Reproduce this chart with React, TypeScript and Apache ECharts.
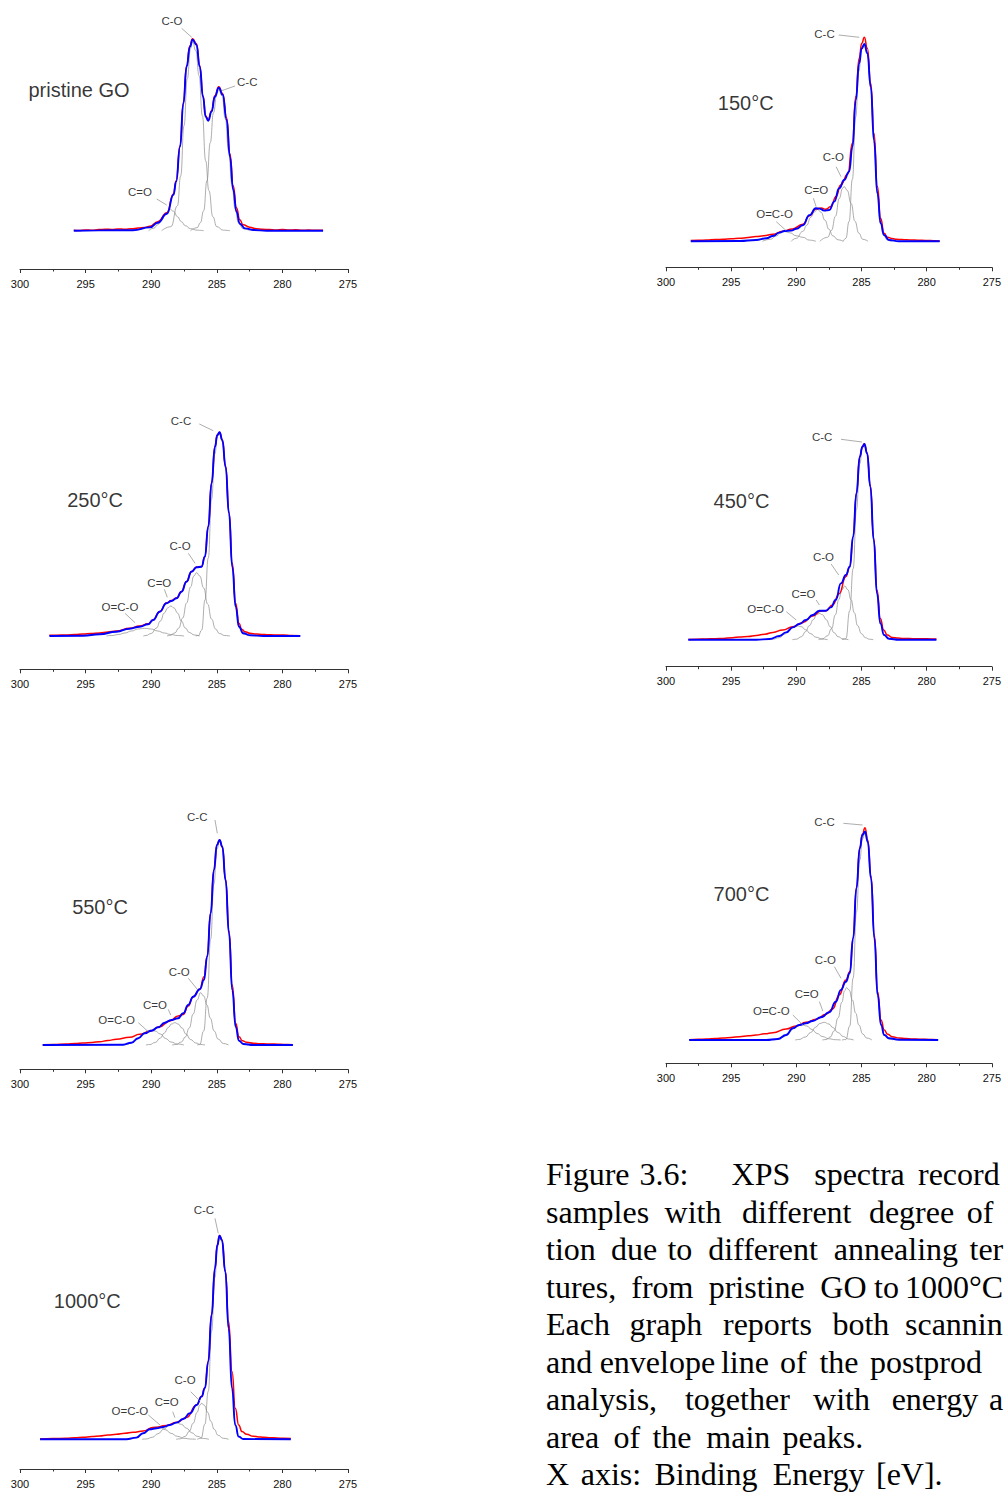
import React, { useEffect, useRef } from "react";
import * as echarts from "echarts";

// ---------- DATA: binding energy [eV] vs intensity (a.u., baseline = 0) ----------
// pristine GO
const p1Measured = [[295.9,0.5],[295.5,0.2],[295,0.8],[294.5,0.4],[294,1.1],[293.5,1.5],[293,1.2],[292.5,1.8],[292,1.4],[291.5,2],[291,2.6],[290.5,3.2],[290.1,4.5],[289.5,9],[288.8,18],[288.3,37],[288.1,50],[287.8,85],[287.55,128],[287.3,165],[287.05,185],[286.85,192],[286.55,187],[286.3,165],[286.05,135],[285.85,115],[285.65,111],[285.4,120],[285.15,135],[284.85,144],[284.55,137],[284.25,113],[284,77],[283.75,45],[283.5,23],[283.25,11],[283,6],[282.5,3.5],[282,2],[281.5,1.5],[281,1.1],[280.5,0.7],[280,1.2],[279.5,0.6],[279,0.9],[278.5,0.4],[278,0.7],[277.5,0.4],[276.9,0.5]];
const p1Envelope = [[295.9,0],[294,0.3],[291.4,0.5],[290.1,3.3],[289.5,8],[288.8,17],[288.3,36],[288.1,49],[287.8,84],[287.55,127],[287.3,164],[287.05,184],[286.85,191],[286.55,186],[286.3,164],[286.05,134],[285.85,114],[285.65,110],[285.4,119],[285.15,134],[284.85,143],[284.55,136],[284.25,111],[284,74],[283.75,41],[283.5,19],[283.25,7],[282.85,2.3],[282.2,0.7],[281.2,0],[276.9,0]];
const p1CdO = [[290.2,0],[289.8,2.5],[289.5,6],[289.2,11],[288.9,17],[288.6,21.7],[288.3,19.5],[288,14],[287.7,9],[287.4,5],[287,2],[286.5,0.5],[286,0]];
const p1CO = [[289.2,0],[288.5,4],[288,25],[287.75,55],[287.5,105],[287.25,152],[287,182],[286.85,189],[286.6,180],[286.35,155],[286.1,115],[285.85,70],[285.6,40],[285.3,14],[285,4],[284.5,0.5],[284,0]];
const p1CC = [[287,0],[286.5,3],[286.25,8],[286,20],[285.75,50],[285.5,88],[285.25,118],[285,137],[284.85,141],[284.6,135],[284.35,112],[284.1,80],[283.85,47],[283.6,22],[283.35,8],[283,2],[282.5,0]];

// 150 °C
const p2Measured = [[298.1,0.7],[297.5,1],[296.9,1.3],[296.2,1.8],[295.6,2],[295,2.6],[294.35,3],[293.7,3.8],[293.1,4.7],[292.5,5.6],[291.8,7],[291.05,10],[290.3,12.3],[289.5,17],[289,25.5],[288.5,32.3],[288.1,33.3],[287.75,32],[287.35,34.7],[286.95,44.7],[286.6,56.3],[286.05,67.3],[285.7,98],[285.44,144.7],[285.18,183],[284.98,198],[284.78,204],[284.55,193],[284.29,158],[284.04,108],[283.78,54.7],[283.53,23],[283.27,8],[283,4],[282.64,2.7],[282.3,2],[281.9,1.7],[281.5,1.5],[281.1,1.3],[280.7,1.1],[280.35,1],[279.9,0.8],[279.5,0.6],[279,0.3]];
const p2Envelope = [[298.1,0],[294.35,0.3],[293.1,1.3],[292.3,3],[291.8,5.3],[291.3,8.7],[290.9,10.3],[290.4,10.7],[290,12.5],[289.5,16],[289,26],[288.5,33],[288.24,32.7],[287.86,30.7],[287.47,31.3],[287.09,39.7],[286.71,53],[286.33,61.3],[285.95,69.7],[285.69,94.7],[285.44,141],[285.18,178],[284.98,193],[284.78,197.3],[284.55,188],[284.29,154.7],[284.04,101],[283.78,48],[283.53,18],[283.27,6.3],[282.89,1.3],[282.13,0],[279,0]];
const p2OCO = [[292.6,0],[292,2],[291.5,5.5],[291.2,8.5],[290.9,9.7],[290.5,8.5],[290,5.5],[289.5,4],[289,1.2],[288.5,0]];
const p2CdO = [[290.4,0],[290,3],[289.5,10],[289.2,16],[288.9,24],[288.6,29.5],[288.37,32],[288.1,29],[287.8,21],[287.5,12],[287.2,5.5],[286.8,1.5],[286.4,0]];
const p2CO = [[288.2,0],[287.6,4],[287.3,11],[287,25],[286.7,43],[286.45,53],[286.33,54.7],[286.1,51],[285.8,38],[285.5,20],[285.2,8],[284.9,2],[284.5,0]];
const p2CC = [[286.4,0],[286.2,3],[285.95,20],[285.7,62],[285.45,124],[285.2,170],[285,192],[284.78,196],[284.55,187],[284.3,154],[284.05,101],[283.8,48],[283.55,18],[283.3,6],[283,1],[282.7,0]];

// 250 °C
const p3Measured = [[297.76,0.7],[297.2,0.8],[296.5,1],[295.8,1.6],[295.2,2],[294.6,2.4],[293.93,3],[293.3,4],[292.66,5],[291.64,7.7],[290.88,10],[290.24,12.3],[289.86,16],[289.35,24.5],[288.84,33],[288.46,35.5],[288.07,38],[287.69,44.5],[287.31,54.5],[286.93,64.5],[286.54,69],[286.16,69.5],[285.91,79.5],[285.65,109.5],[285.4,153],[285.14,189.5],[284.96,201],[284.79,203.7],[284.58,196],[284.33,170],[284.07,124],[283.82,72.7],[283.56,32.7],[283.31,12.7],[283.1,6.7],[282.85,4.3],[282.47,2.7],[281.96,2],[281.5,1.6],[281.19,1.3],[280.6,1.1],[279.9,1],[279.3,0.6],[278.64,0.3]];
const p3Envelope = [[297.76,0],[295.2,0.3],[293.93,1.7],[292.66,4.3],[291.64,7.3],[290.88,9.3],[290.24,11.7],[289.86,16],[289.35,24.3],[288.84,32.7],[288.46,35],[288.07,37.7],[287.69,44.3],[287.31,54.3],[286.93,64.3],[286.54,68.7],[286.16,69.3],[285.91,79.3],[285.65,109.3],[285.4,152.7],[285.14,189.3],[284.96,201],[284.79,203.7],[284.58,196],[284.33,169.3],[284.07,122.7],[283.82,69.3],[283.56,29.3],[283.31,9.3],[282.98,2.7],[282.47,0.7],[281.45,0],[278.64,0]];
const p3OCO = [[293.4,0],[293,0.5],[292.5,1.5],[292,3],[291.5,5],[291,7],[290.5,7.7],[290,7],[289.5,5],[289,3],[288.5,1.5],[288,0.5],[287.5,0]];
const p3CdO = [[290.6,0],[290.4,0.5],[290,2.5],[289.6,8],[289.3,15],[289,23],[288.75,28],[288.5,30],[288.25,28],[288,23],[287.7,15],[287.4,8],[287.1,3.5],[286.7,1],[286.3,0]];
const p3CO = [[288.8,0],[288.6,0.5],[288.2,3],[287.9,8],[287.6,18],[287.3,33],[287,49],[286.75,60],[286.54,63.3],[286.3,60],[286,48],[285.7,32],[285.4,17],[285.1,7],[284.8,2.5],[284.4,0.5],[284,0]];
const p3CC = [[286.6,0],[286.4,0.5],[286.15,6],[285.9,36],[285.65,78],[285.4,137],[285.15,182],[284.95,200],[284.79,202],[284.58,194],[284.33,168],[284.07,122],[283.82,69],[283.56,29],[283.31,9],[283,2],[282.6,0]];

// 450 °C
const p4Measured = [[298.29,0.3],[297.6,0.5],[296.9,0.7],[296.2,1],[295.6,1.3],[294.9,2],[294.35,2.7],[293.7,3.3],[293.08,4.3],[292.4,5.5],[291.8,7.3],[291.04,9.7],[290.27,13],[289.51,17],[288.75,23.7],[288.11,28.7],[287.73,29],[287.22,34.7],[286.71,46],[286.2,63],[285.9,73],[285.64,103],[285.39,146.3],[285.13,183],[284.93,193],[284.78,196],[284.57,187],[284.32,154],[284.06,101.3],[283.81,49.7],[283.55,21.3],[283.3,9.7],[283.02,4.7],[282.64,2.3],[282.2,1.6],[281.87,1.3],[281.3,1.1],[280.86,1],[280.2,0.9],[279.7,0.8],[279.25,0.7]];
const p4Envelope = [[298.29,0],[293.08,0],[292.06,0.7],[291.29,3.7],[290.78,7.3],[290.27,12.3],[289.77,15.7],[289.26,19.7],[288.75,24.7],[288.24,29],[287.73,29],[287.35,32.3],[286.97,40],[286.58,56.3],[286.2,64.7],[285.9,73],[285.64,103],[285.39,146.3],[285.13,183],[284.93,193],[284.78,195.7],[284.57,186.3],[284.32,153],[284.06,99.7],[283.81,46.3],[283.55,16.3],[283.27,4.7],[282.89,1],[282.13,0],[279.25,0]];
const p4OCO = [[292,0],[291.8,0.5],[291.3,2],[290.9,5.5],[290.5,10],[290.2,13],[289.9,13.7],[289.6,13],[289.3,10],[288.9,6],[288.5,2.5],[288,0.7],[287.6,0]];
const p4CdO = [[290.3,0],[290,0.5],[289.6,3],[289.3,8],[289,14],[288.7,20],[288.45,25],[288.24,26.3],[288,25],[287.7,20],[287.4,13],[287.1,7],[286.8,3],[286.4,0.7],[286,0]];
const p4CO = [[288.3,0],[288,0.8],[287.6,4],[287.3,11],[287,25],[286.75,40],[286.5,50],[286.28,53.7],[286.05,50],[285.8,40],[285.55,27],[285.3,14],[285,6],[284.7,2],[284.4,0.5],[284.1,0]];
const p4CC = [[286.5,0],[286.2,1],[285.9,29],[285.64,71],[285.39,130],[285.13,176],[284.93,192],[284.78,195],[284.57,186],[284.32,153],[284.06,100],[283.81,46],[283.55,16],[283.27,4.5],[282.9,1],[282.6,0]];

// 550 °C
const p5Measured = [[298.27,0.3],[297.4,0.6],[296.48,1],[295.8,1.5],[295.2,2],[294.5,2.6],[293.93,3.3],[293.3,4.5],[292.66,5.7],[291.64,7.7],[290.88,10.7],[290.11,13.7],[289.35,18.3],[288.58,24],[287.95,29],[287.56,30.5],[287.18,39],[286.8,48.3],[286.29,56],[285.98,68.3],[285.73,89],[285.47,132],[285.22,175],[284.99,200],[284.79,205],[284.58,198.3],[284.33,166],[284.07,114],[283.82,60],[283.56,21.7],[283.31,8.3],[283.05,4.3],[282.72,2.7],[282.21,1.7],[281.7,1.3],[281.19,1],[280.6,0.9],[280.17,0.7],[279.6,0.5],[279.2,0.3]];
const p5Envelope = [[298.27,0],[292.15,0.3],[291.51,2.3],[291,6.7],[290.49,11.7],[289.98,14.3],[289.47,17.7],[288.97,22.3],[288.46,25],[287.95,26.7],[287.56,31.7],[287.18,40],[286.8,48.3],[286.29,55.7],[285.98,65],[285.73,88.3],[285.47,131.7],[285.22,175],[284.99,200],[284.79,205],[284.58,198.3],[284.33,165],[284.07,111.7],[283.82,55],[283.56,18.3],[283.31,4.3],[282.98,1],[282.21,0],[279.2,0]];
const p5OCO = [[292.2,0],[291.9,0.5],[291.4,2.5],[291,6],[290.6,11],[290.3,14],[290,15],[289.7,14],[289.3,11],[288.9,6.5],[288.5,3],[288,1],[287.5,0]];
const p5CdO = [[290.4,0],[290.1,0.5],[289.7,2.5],[289.3,7],[289,12],[288.7,17.5],[288.45,21],[288.2,22.3],[287.95,21],[287.65,17],[287.35,11],[287,5.5],[286.6,2],[286.2,0.5],[285.9,0]];
const p5CO = [[288.4,0],[288.1,0.5],[287.7,3],[287.4,8],[287.1,17],[286.8,31],[286.5,45],[286.24,52.3],[286,49],[285.75,40],[285.5,27],[285.2,14],[284.9,6],[284.5,1.5],[284.1,0]];
const p5CC = [[286.5,0],[286.3,0.5],[286,14],[285.73,47],[285.47,106],[285.22,161],[284.99,196],[284.79,204],[284.58,197],[284.33,164],[284.07,111],[283.82,55],[283.56,18],[283.31,4.3],[283,1],[282.6,0]];

// 700 °C
const p6Measured = [[298.22,0.3],[297.5,0.7],[296.9,1],[296.2,1.5],[295.6,2],[295,2.6],[294.35,3.3],[293.7,4.2],[293.08,5],[292.4,6.2],[291.8,7.3],[290.78,11],[290.02,14],[289.26,17.7],[288.49,20.7],[287.73,25.7],[287.22,31],[286.71,45],[286.2,60],[285.9,68.3],[285.64,102],[285.39,152],[285.13,192],[284.93,206],[284.73,212.3],[284.52,200],[284.27,164],[284.01,105],[283.76,48.3],[283.5,20],[283.25,10],[282.99,5.7],[282.64,3.3],[282.13,2],[281.6,1.4],[281.11,1],[280.6,0.8],[280.1,0.7],[279.6,0.5],[279.12,0.3]];
const p6Envelope = [[298.22,0],[292.31,0],[291.42,1],[290.78,5],[290.27,11.7],[289.77,15],[289.26,16.7],[288.75,19],[288.11,22.7],[287.47,27.7],[286.97,38.3],[286.58,50],[286.2,58.3],[285.9,66.7],[285.64,101.7],[285.39,151.7],[285.13,191.7],[284.93,205],[284.73,208.3],[284.52,198.3],[284.27,161.7],[284.01,101.7],[283.76,45],[283.5,15],[283.25,5],[282.89,1.7],[282.13,0.3],[279.12,0]];
const p6OCO = [[291.8,0],[291.5,0.5],[291,3],[290.6,7],[290.2,11.5],[289.8,14.5],[289.5,15],[289.2,14],[288.8,10.5],[288.4,6.5],[288,3.5],[287.5,1.2],[287,0.3],[286.6,0]];
const p6CdO = [[290.1,0],[289.8,0.5],[289.3,3],[288.9,7.5],[288.5,13],[288.2,16.5],[287.86,17.7],[287.5,16],[287.2,12.5],[286.8,7.5],[286.4,3.5],[286,1],[285.6,0]];
const p6CO = [[288,0],[287.7,0.5],[287.4,3],[287.1,9],[286.8,22],[286.5,38],[286.3,49],[286.15,52.3],[285.95,50],[285.7,40],[285.45,27],[285.2,15],[284.9,6],[284.6,2],[284.2,0]];
const p6CC = [[286.5,0],[286.2,0.5],[285.9,14],[285.64,62],[285.39,128],[285.13,180],[284.93,201],[284.73,207],[284.52,197],[284.27,161],[284.01,101],[283.76,45],[283.5,15],[283.25,5],[282.9,1],[282.6,0]];

// 1000 °C
const p7Measured = [[298.47,0.3],[297.5,0.7],[296.48,1],[295.8,1.6],[295.2,2],[294.5,2.7],[293.93,3.3],[293.3,4.3],[292.66,5],[292,6],[291.39,7],[290.62,8.3],[289.86,11.7],[288.84,13.7],[288.07,17],[287.31,21.7],[286.54,34.3],[286.16,43],[285.91,51.5],[285.65,78],[285.4,124.5],[285.14,171],[284.96,194.3],[284.79,203.7],[284.61,199.3],[284.35,168.5],[284.1,117.7],[283.84,67.7],[283.59,31],[283.33,14.3],[283.08,7.7],[282.72,5],[282.21,3],[281.8,2.4],[281.45,2],[280.9,1.6],[280.43,1.3],[279.9,1],[279.36,0.7]];
const p7Envelope = [[298.47,0],[291.9,0],[291.13,1.7],[290.62,6],[290.11,10],[289.6,11],[289.09,12.3],[288.58,14.3],[288.07,16.7],[287.56,20.3],[287.05,26],[286.54,34.3],[286.16,42.7],[285.91,51],[285.65,77.7],[285.4,124.3],[285.14,171],[284.96,194.3],[284.79,203.7],[284.61,199.3],[284.35,167.7],[284.1,111],[283.84,51],[283.59,14.3],[283.33,2.7],[282.98,0.3],[279.36,0]];
const p7OCO = [[291.9,0],[291.6,0.3],[291.1,2],[290.6,6],[290.2,10],[289.9,12],[289.6,12.7],[289.3,12],[288.9,9.5],[288.5,6],[288,3],[287.5,1],[287,0.3],[286.6,0]];
const p7CdO = [[290.7,0],[290.4,0.3],[289.9,2],[289.5,5.5],[289,10.5],[288.6,14.5],[288.12,16.7],[287.7,15],[287.3,11],[286.9,6.5],[286.5,3],[286,0.8],[285.6,0]];
const p7CO = [[288.1,0],[287.8,0.5],[287.4,3],[287.1,8],[286.8,16],[286.5,27],[286.3,34],[286.16,36],[285.95,34],[285.7,27],[285.45,18],[285.2,10],[284.9,4],[284.5,1],[284.1,0]];
const p7CC = [[286.5,0],[286.2,1],[285.91,15],[285.65,48],[285.4,108],[285.14,162],[284.96,192],[284.79,203],[284.61,198],[284.35,167],[284.1,111],[283.84,51],[283.59,14],[283.33,2.7],[283,0.3],[282.7,0]];

// peak annotations (text anchor and leader segment, in eV / intensity)
const p1Labels = [
  { text: "C-O", at: [288.42, 210], leader: [[287.68, 202.4], [286.91, 193.4]] },
  { text: "C-C", at: [282.68, 149], leader: [[283.61, 144.7], [284.63, 140]] },
  { text: "C=O", at: [290.85, 38.4], leader: [[289.58, 31.7], [288.82, 25.7]] },
];
const p2Labels = [
  { text: "C-C", at: [287.84, 207.3], leader: [[286.75, 206.3], [285.17, 204]] },
  { text: "C-O", at: [287.16, 84], leader: [[286.95, 74.6], [286.57, 64.6]] },
  { text: "C=O", at: [288.48, 51.3], leader: [[288.69, 43], [288.48, 34.6]] },
  { text: "O=C-O", at: [291.67, 27], leader: [[291.54, 19.6], [290.77, 10.6]] },
];
const p3Labels = [
  { text: "C-C", at: [287.73, 215.3], leader: [[286.33, 212], [285.27, 205.3]] },
  { text: "C-O", at: [287.8, 90], leader: [[287.17, 82.7], [286.66, 72.7]] },
  { text: "C=O", at: [289.38, 53.3], leader: [[289.0, 46.7], [288.77, 38.7]] },
  { text: "O=C-O", at: [292.38, 29.3], leader: [[292.0, 22.7], [291.23, 13.3]] },
];
const p4Labels = [
  { text: "C-C", at: [288.02, 202.4], leader: [[286.57, 200.4], [284.96, 197.7]] },
  { text: "C-O", at: [287.92, 82.4], leader: [[287.33, 75.7], [286.75, 64.7]] },
  { text: "C=O", at: [289.45, 45.7], leader: [[288.48, 39.7], [288.23, 34.7]] },
  { text: "O=C-O", at: [292.35, 30.4], leader: [[290.77, 28], [290.01, 19.7]] },
];
const p5Labels = [
  { text: "C-C", at: [286.49, 227.7], leader: [[285.14, 225], [284.96, 211.7]] },
  { text: "C-O", at: [287.86, 73.3], leader: [[287.17, 66.7], [286.49, 55.7]] },
  { text: "C=O", at: [289.71, 40], leader: [[288.7, 35.7], [288.51, 30]] },
  { text: "O=C-O", at: [292.63, 25], leader: [[290.98, 22.3], [290.22, 13.3]] },
];
const p6Labels = [
  { text: "C-C", at: [287.84, 217.7], leader: [[286.39, 216.7], [284.92, 215]] },
  { text: "C-O", at: [287.77, 80], leader: [[287.08, 73.3], [286.57, 61.7]] },
  { text: "C=O", at: [289.2, 45.7], leader: [[288.23, 38.3], [287.97, 29]] },
  { text: "O=C-O", at: [291.92, 29], leader: [[290.27, 25], [289.5, 15]] },
];
const p7Labels = [
  { text: "C-C", at: [285.98, 229.3], leader: [[285.14, 221], [284.89, 206]] },
  { text: "C-O", at: [287.42, 59.3], leader: [[286.99, 47.6], [286.28, 38.3]] },
  { text: "C=O", at: [288.82, 37], leader: [[288.36, 27.6], [288.19, 21.6]] },
  { text: "O=C-O", at: [291.62, 28.3], leader: [[290.22, 24.3], [289.33, 14.3]] },
];

const panelTitles = ["pristine GO", "150°C", "250°C", "450°C", "550°C", "700°C", "1000°C"];
const panelTitleAt = [[295.5, 141], [293.88, 138], [294.28, 136], [294.21, 138.7], [293.9, 138.3], [294.21, 145.7], [294.87, 138.3]];

const xTickMin = 275;
const xTickMax = 300;
const xTickStep = 5;

// caption (the page edge cuts the justified lines, as in the original)
const captionWords = [
  ["Figure", "3.6:", "XPS", "spectra", "record"],
  ["samples", "with", "different", "degree", "of"],
  ["tion", "due", "to", "different", "annealing", "ter"],
  ["tures,", "from", "pristine", "GO", "to", "1000°C"],
  ["Each", "graph", "reports", "both", "scannin"],
  ["and", "envelope", "line", "of", "the", "postprod"],
  ["analysis,", "together", "with", "energy", "a"],
  ["area", "of", "the", "main", "peaks."],
  ["X", "axis:", "Binding", "Energy", "[eV]."],
];

// ---------- LAYOUT ----------
// word anchors: first word starts at the margin ("L"), inner words centred ("C"), cut words start ("L")
const captionWordX = [
  [546, 663.9, 760.9, 859.5, 918],
  [546, 693, 796.7, 911.5, 980],
  [546, 634, 679.9, 763, 895.9, 969.5],
  [546, 662.4, 756.7, 843.4, 886.5, 905],
  [546, 665.9, 767.4, 860.9, 905],
  [546, 657.4, 744.9, 793.4, 839, 870],
  [546, 737.4, 841.5, 934.9, 989],
  [546, 626.8, 672, 738.3, 822.8],
  [546, 610.9, 706, 818.7, 909.3],
];
const captionWordAlign = [
  ["L", "C", "C", "C", "L"],
  ["L", "C", "C", "C", "C"],
  ["L", "C", "C", "C", "C", "L"],
  ["L", "C", "C", "C", "C", "L"],
  ["L", "C", "C", "C", "L"],
  ["L", "C", "C", "C", "C", "L"],
  ["L", "C", "C", "C", "L"],
  ["L", "C", "C", "C", "C"],
  ["L", "C", "C", "C", "C"],
];
const captionBaseline0 = 1185;
const captionLineStep = 37.5;

const YMAX = 235;
const panelLayout = [
  { side: "L", axisY: 269, baseY: 230.7 },
  { side: "R", axisY: 267.3, baseY: 241.3 },
  { side: "L", axisY: 669.3, baseY: 636 },
  { side: "R", axisY: 666.7, baseY: 639.7 },
  { side: "L", axisY: 1069.3, baseY: 1045 },
  { side: "R", axisY: 1063.3, baseY: 1040 },
  { side: "L", axisY: 1469, baseY: 1439.3 },
];

const panelData = [
  { measured: p1Measured, envelope: p1Envelope, comps: [p1CdO, p1CO, p1CC], labels: p1Labels },
  { measured: p2Measured, envelope: p2Envelope, comps: [p2OCO, p2CdO, p2CO, p2CC], labels: p2Labels },
  { measured: p3Measured, envelope: p3Envelope, comps: [p3OCO, p3CdO, p3CO, p3CC], labels: p3Labels },
  { measured: p4Measured, envelope: p4Envelope, comps: [p4OCO, p4CdO, p4CO, p4CC], labels: p4Labels },
  { measured: p5Measured, envelope: p5Envelope, comps: [p5OCO, p5CdO, p5CO, p5CC], labels: p5Labels },
  { measured: p6Measured, envelope: p6Envelope, comps: [p6OCO, p6CdO, p6CO, p6CC], labels: p6Labels },
  { measured: p7Measured, envelope: p7Envelope, comps: [p7OCO, p7CdO, p7CO, p7CC], labels: p7Labels },
];

function buildOption() {
  const grid: any[] = [];
  const xAxis: any[] = [];
  const yAxis: any[] = [];
  const series: any[] = [];

  panelLayout.forEach((lay, i) => {
    const left = lay.side === "L" ? 20 : 666;
    const width = lay.side === "L" ? 328 : 327;
    const top = Math.max(0, lay.baseY - YMAX);
    const yMax = lay.baseY - top;
    grid.push({ left, top, width, height: lay.axisY - top, containLabel: false });
    xAxis.push({
      gridIndex: i,
      type: "value",
      min: xTickMin,
      max: xTickMax,
      interval: xTickStep,
      inverse: true,
      axisLine: { show: true, onZero: false, lineStyle: { color: "#333", width: 1 } },
      axisTick: { show: true, inside: false, length: 4, lineStyle: { color: "#333", width: 1 } },
      minorTick: { show: true, splitNumber: 2, length: 2.5, lineStyle: { color: "#333", width: 1 } },
      splitLine: { show: false },
      minorSplitLine: { show: false },
      axisLabel: { fontFamily: "Liberation Sans, Arial, sans-serif", fontSize: 11, color: "#111", margin: 9 },
    });
    yAxis.push({ gridIndex: i, type: "value", min: -(lay.axisY - lay.baseY), max: yMax, show: false });

    const d = panelData[i];
    d.comps.forEach((c, k) => {
      series.push({
        type: "line",
        name: `p${i + 1}-comp${k}`,
        xAxisIndex: i,
        yAxisIndex: i,
        data: c,
        symbol: "none",
        smooth: 0.5,
        smoothMonotone: "x",
        silent: true,
        z: 1,
        lineStyle: { color: "#8a8a8a", width: 0.7 },
      });
    });
    series.push({
      type: "line",
      name: `p${i + 1}-measured`,
      xAxisIndex: i,
      yAxisIndex: i,
      data: d.measured,
      symbol: "none",
      smooth: 0.5,
      smoothMonotone: "x",
      silent: true,
      z: 2,
      lineStyle: { color: "#ff0000", width: 1.5 },
    });
    series.push({
      type: "line",
      name: `p${i + 1}-envelope`,
      xAxisIndex: i,
      yAxisIndex: i,
      data: d.envelope,
      symbol: "none",
      smooth: 0.5,
      smoothMonotone: "x",
      silent: true,
      z: 3,
      lineStyle: { color: "#0000ff", width: 1.9 },
    });
    const annData: any[] = d.labels.map((l) => ({ name: l.text, value: l.at }));
    annData.push({ name: panelTitles[i], value: panelTitleAt[i], label: { fontSize: 20 } });
    series.push({
      type: "scatter",
      name: `p${i + 1}-labels`,
      xAxisIndex: i,
      yAxisIndex: i,
      data: annData,
      symbolSize: 1,
      silent: true,
      z: 5,
      itemStyle: { color: "rgba(0,0,0,0)" },
      label: {
        show: true,
        position: "inside",
        formatter: "{b}",
        color: "#000",
        fontFamily: "Liberation Sans, Arial, sans-serif",
        fontSize: 11.5,
      },
      markLine: {
        silent: true,
        symbol: ["none", "none"],
        animation: false,
        label: { show: false },
        emphasis: { disabled: true },
        lineStyle: { color: "#8a8a8a", width: 0.7, type: "solid" },
        data: d.labels.map((l) => [{ coord: l.leader[0] }, { coord: l.leader[1] }]),
      },
    });
  });

  const graphic: any[] = [];
  captionWords.forEach((line, li) => {
    line.forEach((w, wi) => {
      graphic.push({
        type: "text",
        x: captionWordX[li][wi],
        y: captionBaseline0 + li * captionLineStep - 10.8,
        silent: true,
        style: {
          text: w,
          fill: "#000",
          font: '32px "Liberation Serif", "Times New Roman", serif',
          align: captionWordAlign[li][wi] === "C" ? "center" : "left",
          verticalAlign: "middle",
        },
      });
    });
  });

  return {
    animation: false,
    backgroundColor: "#ffffff",
    grid,
    xAxis,
    yAxis,
    series,
    graphic,
  };
}

export default function App() {
  const ref = useRef<HTMLDivElement>(null);
  useEffect(() => {
    document.body.style.margin = "0";
    const chart = echarts.init(ref.current as HTMLDivElement, null, { renderer: "svg" });
    chart.setOption(buildOption() as any);
    return () => chart.dispose();
  }, []);
  return (
    <div
      ref={ref}
      style={{ position: "absolute", left: 0, top: 0, width: 1004, height: 1492, overflow: "hidden", background: "#fff" }}
    />
  );
}
